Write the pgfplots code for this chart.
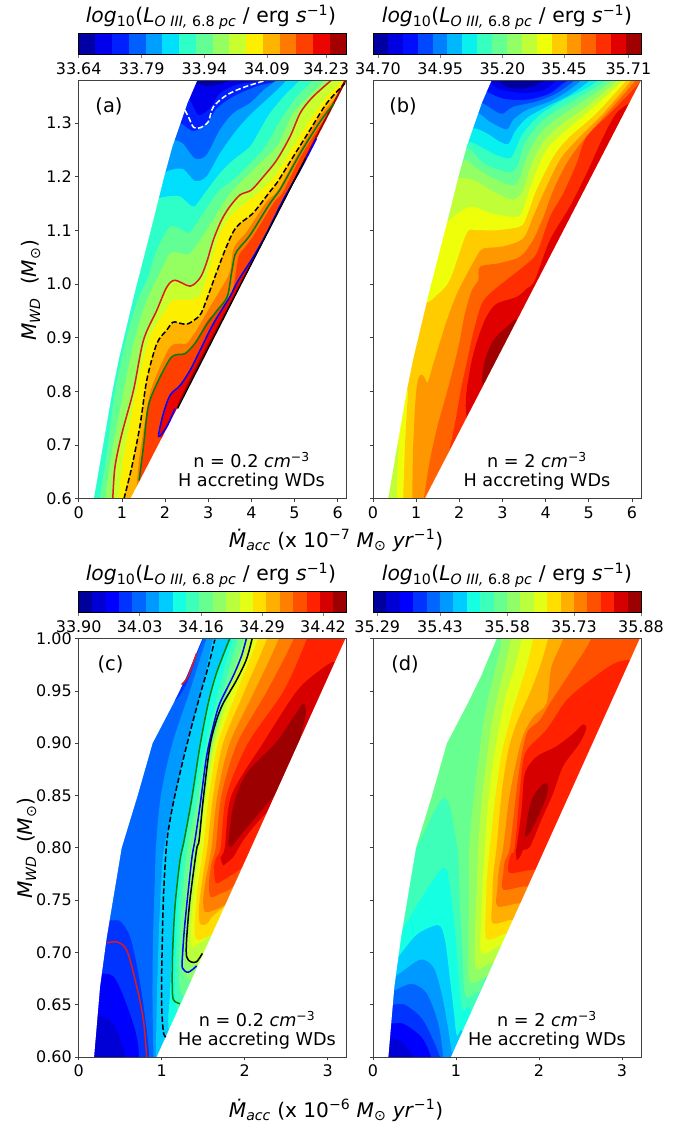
\documentclass[border=0pt]{standalone}
\usepackage{fontspec}
\setmainfont{DejaVu Sans}
\usepackage{pgfplots}
\pgfplotsset{compat=1.18}

% discrete jet, one colour per contour level: j16c0 ... j16c15 etc
\newcount\jc
\newcommand{\mkjet}[1]{\jc=0
  \loop\ifnum\jc<#1
    \pgfmathsetmacro\jt{(\the\jc+.5)/#1}
    \pgfmathsetmacro\jr{max(0,min(1,(\jt-.35)/.31,1-.5*(\jt-.89)/.11))}
    \pgfmathsetmacro\jg{max(0,min(1,(\jt-.125)/.25,1-(\jt-.64)/.27))}
    \pgfmathsetmacro\jb{max(0,min(1,.5+.5*\jt/.11,1-(\jt-.34)/.31))}
    \definecolor{j#1c\the\jc}{rgb}{\jr,\jg,\jb}
    \advance\jc by 1
  \repeat}
\mkjet{16}\mkjet{18}\mkjet{20}
\definecolor{cred}{rgb}{.88,.1,.1}

\newcommand{\fs}[1]{\fontsize{#1}{#1}\selectfont}
\pgfplotsset{
  panel/.style={scale only axis, anchor=south west, width=268bp, height=418.4bp,
    axis on top, tick pos=left, tick align=outside, major tick length=3.5bp,
    axis line style={line width=.7bp,black!75}, tick style={line width=.7bp,black!75},
    tick label style={font=\fs{16}}, xticklabel style={yshift=-1bp},
    clip=true},
  hwd/.style={panel, xmin=0, xmax=6.21, ymin=.6, ymax=1.3795,
    xtick={0,...,6}, xticklabels={0,1,2,3,4,5,6},
    ytick={.6,.7,.8,.9,1,1.1,1.2,1.3}},
  hewd/.style={panel, xmin=0, xmax=3.229, ymin=.6, ymax=1,
    xtick={0,1,2,3}, xticklabels={0,1,2,3},
    ytick={.6,.65,.7,.75,.8,.85,.9,.95,1}},
  cline/.style={line width=1.5bp,smooth},
}
% filled level regions, painted from low to high
\newcommand{\base}[1]{\addplot[draw=none,fill=#1] coordinates {(-1,.4)(9,.4)(9,1.6)(-1,1.6)};}
\newcommand{\layR}[2]{\addplot[draw=none,fill=#1,smooth] coordinates {#2 (9,1.6)(9,.4)};}
\newcommand{\layL}[2]{\addplot[draw=none,fill=#1,smooth] coordinates {#2 (9,1.6)(9,.4)(-1,.4)(-1,1.6)};}
\newcommand{\layB}[2]{\addplot[draw=none,fill=#1,smooth] coordinates {#2 (9,.4)(9,1.6)(-1,1.6)};}
\newcommand{\blob}[2]{\addplot[draw=none,fill=#1,smooth] coordinates {#2};}
% white outside the model grid
\newcommand{\maskH}{%
  \addplot[draw=none,fill=white] coordinates {(.24,.55)(.35,.6)(.78,.8)(.93,.86)(1.3,.985)(1.71,1.113)(1.98,1.2)(2.17,1.256)(2.52,1.337)(2.75,1.38)(2.8,1.41)(-1,1.41)(-1,.4)};
  \addplot[draw=none,fill=white] coordinates {(.88,.55)(1.2,.6)(6.2,1.3775)(6.4,1.41)(9,1.41)(9,.4)};}
\newcommand{\maskHe}{%
  \addplot[draw=none,fill=white] coordinates {(.15,.55)(.185,.6)(.257,.667)(.337,.714)(.518,.8)(.71,.85)(.89,.9)(1.14,.938)(1.3,.964)(1.49,1)(1.52,1.02)(-1,1.02)(-1,.4)};
  \addplot[draw=none,fill=white] coordinates {(.656,.55)(.94,.6)(3.215,1)(3.33,1.02)(5,1.02)(5,.4)};}
% colour bar, one rectangle per level
\newcommand{\cbar}[6]{%
  \begin{axis}[scale only axis, anchor=south west, at={(#2bp,#3bp)}, width=268bp, height=21bp,
      xmin=0, xmax=#1, ymin=0, ymax=1, ytick=\empty, axis on top,
      xtick={#4}, xticklabels={#5}, xtick pos=bottom, tick align=outside, major tick length=3.5bp,
      axis line style={line width=.7bp}, tick style={line width=.7bp},
      tick label style={font=\fs{16}}, xticklabel style={yshift=-1bp}]
    \pgfplotsinvokeforeach{0,...,#6}{%
      \pgfmathtruncatemacro\nx{##1+1}
      \edef\tmp{\noexpand\addplot[draw=none,fill=j#1c##1] coordinates {(##1,0)(\nx,0)(\nx,1)(##1,1)};}\tmp}
  \end{axis}}
\newcommand{\ctitle}{\textit{log}\textsubscript{10}(\textit{L}\textsubscript{\textit{O III,} 6.8 \textit{pc}} / erg \textit{s}\textsuperscript{−1})}
\newcommand{\mlabel}[1]{\textit{\.{M}}\textsubscript{\textit{acc}} (x 10\textsuperscript{−#1} \textit{M}\textsubscript{⊙} \textit{yr}\textsuperscript{−1})}
\newcommand{\wlabel}{\textit{M}\textsubscript{\textit{WD}}\ \ (\textit{M}\textsubscript{⊙})}
\newcommand{\dens}[1]{n = #1 \textit{cm}\textsuperscript{−3}}

\begin{document}
\begin{tikzpicture}
\path[use as bounding box] (0,0) rectangle (686bp,1122bp);

%%% (a)
\begin{axis}[hwd, at={(78.7bp,623.3bp)}, yticklabels={0.6,0.7,0.8,0.9,1.0,1.1,1.2,1.3}]
\base{j16c1}
\layL{j16c2}{(2.3,1.33)(2.54,1.346)(2.77,1.315)(3.04,1.327)(3.27,1.355)(3.66,1.371)(4.2,1.38)(4.4,1.4)(4.5,1.44)(4.55,1.6)}
\layL{j16c3}{(2.1,1.29)(2.35,1.299)(2.58,1.287)(2.73,1.286)(3,1.302)(3.2,1.327)(3.58,1.349)(4.12,1.368)(4.66,1.38)(4.85,1.4)(4.95,1.44)(5,1.6)}
\layL{j16c4}{(1.9,1.26)(2.19,1.268)(2.42,1.261)(2.69,1.234)(2.96,1.24)(3.27,1.287)(3.58,1.318)(3.97,1.337)(4.28,1.361)(4.59,1.38)(4.8,1.4)(4.9,1.44)(4.95,1.6)}
\layL{j16c5}{(1.8,1.2)(2.115,1.212)(2.42,1.214)(2.69,1.192)(2.96,1.2)(3.27,1.243)(3.66,1.287)(4.01,1.318)(4.35,1.343)(4.59,1.361)(4.82,1.38)(5,1.4)(5.1,1.44)(5.15,1.6)}
\layL{j16c6}{(1.5,1.14)(1.77,1.157)(2.04,1.163)(2.35,1.163)(2.66,1.144)(2.89,1.166)(3.27,1.206)(3.58,1.231)(3.97,1.256)(4.2,1.287)(4.43,1.318)(4.78,1.352)(5.13,1.38)(5.3,1.4)(5.4,1.44)(5.45,1.6)}
\layR{j16c7}{(.4,.5)(.49,.6)(.65,.684)(.84,.799)(1.11,.901)(1.38,.973)(1.58,1.007)(1.81,1.063)(2.12,1.107)(2.42,1.1)(2.58,1.097)(2.96,1.141)(3.27,1.175)(3.58,1.194)(4.05,1.231)(4.32,1.256)(4.59,1.293)(4.78,1.318)(5.09,1.352)(5.44,1.38)(5.6,1.4)(5.7,1.44)(5.75,1.6)}
\layR{j16c8}{(.52,.5)(.61,.6)(.76,.684)(1.03,.796)(1.27,.889)(1.58,.97)(1.88,1.02)(2.12,1.057)(2.39,1.057)(2.58,1.057)(2.96,1.1)(3.35,1.15)(3.58,1.175)(3.81,1.194)(4.2,1.225)(4.59,1.256)(4.82,1.293)(4.97,1.318)(5.36,1.352)(5.71,1.38)(5.9,1.4)(6,1.44)(6.05,1.6)}
\layR{j16c9}{(.72,.5)(.79,.6)(.84,.659)(1,.721)(1.27,.802)(1.5,.895)(1.81,.951)(2.04,.994)(2.23,1.007)(2.58,.996)(2.81,1.011)(2.96,1.039)(3.12,1.082)(3.31,1.119)(3.5,1.144)(3.74,1.166)(4,1.175)(4.28,1.2)(4.59,1.231)(4.9,1.275)(5.13,1.318)(5.36,1.343)(5.59,1.361)(5.86,1.38)(6,1.4)(6.1,1.44)(6.15,1.6)}
\layR{j16c10}{(.85,.5)(.92,.6)(1.03,.672)(1.23,.758)(1.42,.832)(1.65,.901)(1.96,.945)(2.19,.97)(2.5,.97)(2.81,.979)(3.04,1.032)(3.27,1.094)(3.5,1.125)(3.85,1.15)(4.24,1.175)(4.59,1.206)(4.97,1.256)(5.36,1.306)(5.75,1.349)(6.09,1.38)(6.3,1.42)(6.4,1.46)(6.45,1.6)}
\layR{j16c11}{(1,.5)(1.05,.6)(1.23,.659)(1.42,.736)(1.58,.822)(1.81,.889)(2.04,.914)(2.19,.929)(2.39,.926)(2.54,.926)(2.81,.942)(2.96,.97)(3.16,1.014)(3.39,1.063)(3.58,1.097)(3.74,1.113)(4.04,1.132)(4.43,1.172)(4.59,1.188)(4.97,1.237)(5.36,1.287)(5.75,1.337)(6.17,1.374)(6.3,1.42)(6.4,1.46)(6.45,1.6)}
\layR{j16c12}{(1.28,.55)(1.38,.659)(1.5,.727)(1.65,.796)(1.85,.839)(2.12,.883)(2.35,.889)(2.5,.889)(2.73,.914)(3.04,.957)(3.25,.985)(3.49,1.02)(3.57,1.06)(3.66,1.076)(3.89,1.097)(4.35,1.153)(4.62,1.175)(5.13,1.25)(5.59,1.312)(5.98,1.349)(6.2,1.377)(6.4,1.42)(6.5,1.46)(6.55,1.6)}
\layR{j16c13}{(1.34,.55)(1.4,.634)(1.5,.697)(1.61,.771)(1.81,.814)(2.12,.861)(2.31,.869)(2.46,.87)(2.69,.889)(2.97,.93)(3.2,.95)(3.5,.976)(3.6,1)(3.7,1.05)(3.82,1.065)(4.05,1.09)(4.51,1.15)(4.74,1.172)(5.13,1.235)(5.59,1.295)(5.92,1.33)(6.1,1.345)(6.4,1.4)(6.5,1.44)(6.55,1.6)}
\layR{j16c14}{(2.05,.7)(1.87,.72)(1.98,.758)(2.14,.793)(2.37,.811)(2.6,.839)(2.83,.876)(3.14,.926)(3.5,.976)(3.72,1.007)(4.07,1.051)(4.37,1.094)(4.76,1.157)(5.15,1.212)(5.53,1.271)(5.9,1.33)(6.4,1.39)(6.5,1.43)(6.55,1.6)}
\layR{j16c15}{(2.2,.7)(2.32,.78)(3.8,1.01)(5.3,1.245)(6.4,1.42)(6.5,1.46)(6.55,1.6)}
\blob{j16c0}{(2.6,1.39)(2.7,1.375)(2.96,1.369)(3.27,1.372)(3.47,1.38)(3.6,1.39)}
\maskH
\addplot[cline,cred] coordinates {(.79,.6)(.84,.659)(1,.721)(1.27,.802)(1.5,.895)(1.81,.951)(2.04,.994)(2.23,1.007)(2.58,.996)(2.81,1.011)(2.96,1.039)(3.12,1.082)(3.31,1.119)(3.5,1.144)(3.74,1.166)(4,1.175)(4.28,1.2)(4.59,1.231)(4.9,1.275)(5.13,1.318)(5.36,1.343)(5.59,1.361)(5.86,1.38)};
\addplot[cline,black,dash pattern=on 5.5bp off 2.5bp] coordinates {(1.05,.6)(1.23,.659)(1.42,.736)(1.58,.822)(1.81,.889)(2.04,.914)(2.19,.929)(2.39,.926)(2.54,.926)(2.81,.942)(2.96,.97)(3.16,1.014)(3.39,1.063)(3.58,1.097)(3.74,1.113)(4.04,1.132)(4.43,1.172)(4.59,1.188)(4.97,1.237)(5.36,1.287)(5.75,1.337)(6.17,1.374)};
\addplot[cline,green!50!black] coordinates {(1.4,.634)(1.5,.697)(1.61,.771)(1.81,.814)(2.12,.861)(2.31,.869)(2.46,.87)(2.69,.889)(2.97,.925)(3.2,.95)(3.44,.976)(3.54,1.02)(3.62,1.054)(3.74,1.069)(3.97,1.091)(4.43,1.15)(4.66,1.175)(5.13,1.243)(5.59,1.302)(5.92,1.337)};
\addplot[cline,blue] coordinates {(2.23,.768)(2.04,.734)(1.85,.716)(1.96,.758)(2.12,.793)(2.35,.811)(2.58,.839)(2.81,.876)(3.12,.926)(3.5,.976)(3.7,1.007)(4.05,1.051)(4.35,1.094)(4.74,1.157)(5.13,1.212)(5.51,1.271)};
\addplot[line width=1.3bp,black] coordinates {(2.29,.768)(3.78,1.003)(5.26,1.234)};
\addplot[cline,white,dash pattern=on 5.5bp off 2.5bp] coordinates {(2.46,1.324)(2.54,1.312)(2.66,1.292)(2.81,1.291)(3,1.302)(3.12,1.33)(3.43,1.352)(3.81,1.366)(4.28,1.378)};
\end{axis}

%%% (b)
\begin{axis}[hwd, at={(373bp,623.3bp)}, yticklabels={}]
\base{j18c0}
\layL{j18c1}{(2.85,1.4)(2.90,1.38)(3.14,1.366)(3.48,1.364)(3.79,1.371)(3.98,1.38)(4.05,1.4)(4.15,1.44)(4.2,1.6)}
\layL{j18c2}{(2.6,1.4)(2.75,1.374)(2.94,1.362)(3.48,1.356)(3.95,1.361)(4.25,1.38)(4.35,1.4)(4.45,1.44)(4.5,1.6)}
\layL{j18c3}{(2.4,1.38)(2.59,1.361)(2.79,1.352)(3.1,1.344)(3.64,1.344)(4.1,1.355)(4.41,1.374)(4.53,1.38)(4.65,1.4)(4.75,1.44)(4.8,1.6)}
\layL{j18c4}{(2.3,1.33)(2.52,1.337)(2.79,1.324)(3,1.317)(3.25,1.33)(3.79,1.34)(4.25,1.355)(4.68,1.38)(4.8,1.4)(4.9,1.44)(4.95,1.6)}
\layL{j18c5}{(2.2,1.31)(2.44,1.318)(2.71,1.302)(3.1,1.288)(3.25,1.306)(3.56,1.324)(4.1,1.34)(4.49,1.358)(4.83,1.38)(4.95,1.4)(5.05,1.44)(5.1,1.6)}
\layL{j18c6}{(2.1,1.28)(2.34,1.29)(2.63,1.281)(2.94,1.265)(3.14,1.261)(3.29,1.284)(3.56,1.309)(4.02,1.33)(4.56,1.352)(5.03,1.38)(5.15,1.4)(5.25,1.44)(5.3,1.6)}
\layL{j18c7}{(2,1.25)(2.21,1.265)(2.48,1.256)(2.86,1.24)(3.17,1.234)(3.3,1.25)(3.48,1.281)(3.87,1.315)(4.41,1.343)(4.87,1.361)(5.22,1.38)(5.35,1.4)(5.45,1.44)(5.5,1.6)}
\layL{j18c8}{(1.95,1.22)(2.19,1.253)(2.56,1.225)(2.94,1.212)(3.23,1.209)(3.37,1.225)(3.52,1.262)(3.87,1.3)(4.33,1.327)(4.87,1.352)(5.41,1.38)(5.55,1.4)(5.65,1.44)(5.7,1.6)}
\layL{j18c9}{(1.9,1.2)(2.13,1.231)(2.4,1.216)(2.79,1.197)(3.25,1.183)(3.41,1.2)(3.6,1.243)(3.91,1.284)(4.33,1.312)(4.87,1.34)(5.57,1.38)(5.7,1.4)(5.8,1.44)(5.85,1.6)}
\layL{j18c10}{(1.75,1.19)(1.98,1.197)(2.32,1.194)(2.79,1.172)(3.25,1.157)(3.48,1.175)(3.68,1.225)(3.98,1.268)(4.41,1.3)(4.95,1.33)(5.68,1.38)(5.85,1.4)(5.95,1.44)(6,1.6)}
\layR{j18c11}{(.53,.57)(.55,.6)(.57,.659)(.59,.709)(.47,.758)(1.01,.945)(1.55,1.119)(1.67,1.113)(2.02,1.135)(2.32,1.144)(2.71,1.132)(3.25,1.125)(3.44,1.132)(3.68,1.188)(4.02,1.25)(4.49,1.287)(5.03,1.324)(5.8,1.38)(5.95,1.4)(6.05,1.44)(6.1,1.6)}
\layR{j18c12}{(.69,.57)(.7,.6)(.74,.696)(.78,.758)(.8,.802)(.63,.82)(1.09,.951)(1.2,.966)(1.28,.966)(1.44,.976)(1.78,1.007)(2.17,1.094)(2.4,1.1)(2.86,1.1)(3.41,1.107)(3.56,1.125)(3.79,1.175)(4.18,1.237)(4.56,1.274)(5.18,1.318)(5.88,1.38)(6.03,1.4)(6.13,1.44)(6.18,1.6)}
\layR{j18c13}{(.91,.57)(.91,.6)(.93,.696)(.99,.789)(1.05,.824)(1.13,.831)(1.2,.825)(1.27,.817)(1.4,.852)(1.71,.932)(1.98,.988)(2.4,1.051)(2.56,1.066)(3.02,1.07)(3.48,1.085)(3.71,1.125)(3.95,1.169)(4.33,1.231)(4.72,1.268)(5.34,1.318)(5.99,1.38)(6.1,1.4)(6.2,1.44)(6.25,1.6)}
\layR{j18c14}{(1.15,.55)(1.18,.6)(1.32,.672)(1.51,.74)(1.75,.809)(1.98,.883)(2.13,.945)(2.29,.988)(2.44,1.007)(2.48,1.032)(2.94,1.039)(3.41,1.051)(3.71,1.082)(3.95,1.125)(4.18,1.175)(4.49,1.225)(4.87,1.268)(5.49,1.324)(6.09,1.38)(6.2,1.4)(6.3,1.44)(6.35,1.6)}
\layR{j18c15}{(1.72,.66)(1.77,.69)(1.9,.74)(2.05,.809)(2.17,.852)(2.32,.908)(2.52,.963)(2.79,.988)(3.48,1.032)(3.79,1.057)(4.1,1.125)(4.41,1.169)(4.72,1.225)(4.95,1.274)(5.57,1.324)(6.19,1.377)(6.3,1.4)(6.4,1.44)(6.45,1.6)}
\layR{j18c16}{(2.2,.74)(2.15,.765)(2.17,.802)(2.29,.858)(2.44,.901)(2.63,.939)(2.86,.963)(3.33,.976)(3.56,.991)(3.75,1.007)(4.1,1.082)(4.56,1.144)(4.95,1.206)(5.34,1.275)(5.64,1.318)(5.95,1.337)(6.3,1.35)(6.4,1.44)(6.45,1.6)}
\blob{j18c17}{(2.52,.82)(2.59,.857)(2.79,.895)(3.17,.925)(3.35,.93)(3.5,.85)(2.7,.8)(2.52,.82)}
\maskH
\end{axis}

%%% (c)
\begin{axis}[hewd, at={(78.7bp,65bp)}, yticklabels={0.60,0.65,0.70,0.75,0.80,0.85,0.90,0.95,1.00}]
\base{j20c1}
\layB{j20c2}{(.1,.64)(.185,.639)(.257,.64)(.42,.632)(.52,.613)(.56,.6)(.58,.55)(.59,.4)}
\layB{j20c3}{(.1,.68)(.26,.68)(.42,.677)(.54,.658)(.68,.626)(.73,.6)(.75,.55)(.76,.4)}
\layR{j20c4}{(.85,.55)(.85,.6)(.8,.638)(.72,.68)(.62,.715)(.5,.73)(.38,.731)(.3,.74)(.55,.85)(.9,.93)(1.12,.9375)(1.24,.948)(1.34,.964)(1.43,.986)(1.5,1)(1.7,1.05)(1.76,1.12)(1.8,1.5)}
\layR{j20c5}{(.9,.55)(.9,.6)(.89,.648)(.89,.68)(.9,.728)(.92,.775)(.93,.8)(.99,.85)(1.13,.9)(1.34,.95)(1.54,1)(1.74,1.05)(1.8,1.12)(1.84,1.5)}
\layR{j20c6}{(.93,.55)(.93,.6)(.94,.648)(.95,.68)(.97,.728)(1,.775)(1.03,.8)(1.16,.85)(1.3,.9)(1.48,.95)(1.62,1)(1.82,1.05)(1.88,1.12)(1.92,1.5)}
\layR{j20c7}{(1.15,.59)(1.08,.63)(1.1,.66)(1.12,.696)(1.15,.744)(1.21,.788)(1.26,.807)(1.35,.846)(1.45,.897)(1.55,.938)(1.65,.967)(1.81,1)(2.01,1.05)(2.07,1.12)(2.11,1.5)}
\layR{j20c8}{(1.3,.62)(1.17,.65)(1.16,.667)(1.17,.696)(1.2,.744)(1.27,.8)(1.39,.85)(1.53,.9)(1.68,.95)(1.86,1)(2.06,1.05)(2.12,1.12)(2.16,1.5)}
\layR{j20c9}{(1.35,.65)(1.22,.664)(1.21,.696)(1.24,.744)(1.31,.8)(1.44,.85)(1.57,.9)(1.74,.95)(1.92,1)(2.12,1.05)(2.18,1.12)(2.22,1.5)}
\layR{j20c10}{(1.42,.67)(1.27,.68)(1.25,.7)(1.28,.744)(1.36,.8)(1.48,.85)(1.61,.9)(1.79,.95)(1.99,1)(2.19,1.05)(2.25,1.12)(2.29,1.5)}
\layR{j20c11}{(1.5,.69)(1.33,.69)(1.3,.712)(1.34,.76)(1.42,.8)(1.52,.85)(1.62,.9)(1.8,.95)(2.04,1)(2.24,1.05)(2.3,1.12)(2.34,1.5)}
\layR{j20c12}{(1.65,.72)(1.48,.71)(1.36,.705)(1.35,.718)(1.38,.753)(1.45,.8)(1.53,.85)(1.64,.9)(1.84,.95)(2.1,1)(2.3,1.05)(2.36,1.12)(2.4,1.5)}
\layR{j20c13}{(1.8,.73)(1.62,.718)(1.46,.712)(1.4,.715)(1.4,.731)(1.43,.76)(1.5,.8)(1.57,.85)(1.68,.9)(1.91,.95)(2.16,1)(2.36,1.05)(2.42,1.12)(2.46,1.5)}
\layR{j20c14}{(1.85,.75)(1.62,.735)(1.54,.727)(1.46,.728)(1.45,.744)(1.5,.775)(1.55,.8)(1.62,.85)(1.74,.9)(2,.95)(2.27,1)(2.47,1.05)(2.53,1.12)(2.57,1.5)}
\layR{j20c15}{(1.95,.77)(1.78,.747)(1.62,.74)(1.52,.739)(1.5,.75)(1.53,.769)(1.6,.8)(1.67,.85)(1.82,.9)(2.12,.95)(2.41,1)(2.61,1.05)(2.67,1.12)(2.71,1.5)}
\layR{j20c16}{(2.05,.79)(1.86,.763)(1.7,.756)(1.59,.753)(1.57,.766)(1.6,.785)(1.65,.8)(1.72,.85)(1.91,.9)(2.27,.95)(2.59,1)(2.79,1.05)(2.85,1.12)(2.89,1.5)}
\layR{j20c17}{(2.15,.8)(1.98,.782)(1.74,.769)(1.65,.767)(1.63,.782)(1.66,.791)(1.71,.8)(1.78,.85)(2.04,.9)(2.47,.95)(2.75,1)(2.95,1.05)(3.01,1.12)(3.05,1.5)}
\blob{j20c18}{(1.74,.783)(1.71,.791)(1.76,.8)(1.84,.85)(2.22,.9)(2.63,.95)(2.91,.97)(3.07,.978)(3.07,.972)(2.95,.932)(2.75,.887)(2.47,.852)(2.14,.823)(1.98,.807)(1.86,.791)(1.74,.783)}
\blob{j20c19}{(1.8,.803)(1.86,.839)(2.02,.871)(2.37,.9)(2.59,.925)(2.71,.938)(2.73,.925)(2.59,.884)(2.43,.858)(2.14,.83)(1.94,.811)(1.84,.801)(1.8,.803)}
\maskHe
\addplot[cline,cred] coordinates {(.34,.709)(.46,.71)(.58,.702)(.7,.667)(.78,.635)(.82,.6)};
\addplot[cline,cred] coordinates {(1.24,.956)(1.32,.964)(1.42,.986)};
\addplot[cline,black,dash pattern=on 5.5bp off 2.5bp] coordinates {(1.05,.619)(1.02,.624)(1,.648)(1,.68)(1.02,.75)(1.06,.804)(1.13,.839)(1.24,.878)(1.36,.916)(1.48,.951)(1.56,.973)(1.64,.999)};
\addplot[cline,green!50!black] coordinates {(1.22,.651)(1.16,.653)(1.13,.66)(1.13,.696)(1.16,.744)(1.22,.788)(1.27,.807)(1.36,.846)(1.46,.897)(1.56,.938)(1.66,.967)(1.82,1)};
\addplot[cline,blue] coordinates {(1.42,.687)(1.32,.681)(1.25,.685)(1.25,.696)(1.28,.728)(1.36,.788)(1.4,.807)(1.46,.839)(1.54,.887)(1.62,.916)(1.7,.938)(1.86,.964)(1.96,.983)(2.02,1)};
\addplot[cline,black] coordinates {(1.49,.699)(1.42,.691)(1.35,.691)(1.3,.696)(1.3,.712)(1.34,.75)(1.42,.798)(1.45,.807)(1.5,.846)(1.58,.897)(1.66,.922)(1.74,.938)(1.9,.96)(2.02,.98)(2.09,1)};
\end{axis}

%%% (d)
\begin{axis}[hewd, at={(373bp,65bp)}, yticklabels={}]
\base{j20c1}
\layB{j20c2}{(.1,.618)(.205,.618)(.325,.616)(.446,.605)(.486,.6)(.5,.58)(.51,.4)}
\layB{j20c3}{(.1,.632)(.225,.632)(.365,.632)(.586,.619)(.7,.6)(.71,.58)(.72,.4)}
\layB{j20c4}{(.1,.65)(.237,.65)(.386,.65)(.606,.635)(.807,.6)(.82,.58)(.83,.4)}
\layB{j20c5}{(.1,.66)(.265,.664)(.466,.67)(.647,.661)(.787,.632)(.847,.6)(.86,.58)(.87,.4)}
\layB{j20c6}{(.1,.67)(.285,.678)(.566,.693)(.727,.686)(.827,.661)(.908,.626)(.948,.604)(.97,.59)(.98,.4)}
\layB{j20c7}{(.1,.68)(.305,.696)(.526,.717)(.787,.726)(.867,.712)(.928,.674)(.976,.642)(1.008,.621)(1.1,.61)(1.12,.4)}
\layB{j20c8}{(.15,.7)(.345,.721)(.566,.75)(.827,.78)(.908,.772)(.988,.721)(1.04,.67)(1.08,.645)(1.2,.63)(1.22,.4)}
\layB{j20c9}{(.35,.78)(.526,.801)(.647,.82)(.775,.841)(.867,.848)(.928,.839)(.988,.814)(1.016,.801)(1.028,.791)(1.048,.744)(1.08,.696)(1.116,.658)(1.27,.662)(1.4,.66)(1.42,.4)}
\layR{j20c10}{(1.5,.67)(1.38,.677)(1.169,.672)(1.149,.712)(1.157,.76)(1.16,.801)(1.21,.846)(1.27,.884)(1.33,.919)(1.41,.951)(1.51,.983)(1.55,1)(1.6,1.05)(1.66,1.12)(1.7,1.5)}
\layR{j20c11}{(1.55,.68)(1.458,.691)(1.241,.685)(1.229,.718)(1.249,.76)(1.27,.801)(1.31,.846)(1.37,.884)(1.43,.919)(1.51,.948)(1.59,.973)(1.66,1)(1.74,1.05)(1.8,1.12)(1.84,1.5)}
\layR{j20c12}{(1.65,.7)(1.549,.707)(1.309,.699)(1.301,.728)(1.317,.76)(1.349,.801)(1.39,.846)(1.45,.884)(1.53,.919)(1.61,.948)(1.71,.973)(1.79,1)(1.9,1.05)(1.96,1.12)(2,1.5)}
\layR{j20c13}{(1.75,.71)(1.611,.718)(1.369,.713)(1.361,.744)(1.377,.775)(1.41,.801)(1.47,.846)(1.55,.89)(1.65,.922)(1.75,.948)(1.85,.973)(1.93,1)(2.05,1.05)(2.11,1.12)(2.15,1.5)}
\layR{j20c14}{(1.85,.72)(1.685,.731)(1.442,.728)(1.438,.75)(1.45,.775)(1.49,.801)(1.55,.852)(1.63,.893)(1.73,.919)(1.89,.948)(2.01,.973)(2.11,1)(2.25,1.05)(2.31,1.12)(2.35,1.5)}
\layR{j20c15}{(1.95,.74)(1.776,.747)(1.502,.744)(1.498,.761)(1.518,.78)(1.57,.801)(1.65,.852)(1.79,.903)(1.93,.925)(2.09,.938)(2.15,.973)(2.29,1)(2.45,1.05)(2.51,1.12)(2.55,1.5)}
\layR{j20c16}{(2.05,.75)(1.868,.763)(1.57,.76)(1.57,.775)(1.59,.788)(1.65,.801)(1.75,.868)(1.85,.909)(2.01,.922)(2.13,.938)(2.37,.967)(2.63,1)(2.85,1.05)(2.91,1.12)(2.95,1.5)}
\layR{j20c17}{(2.15,.77)(1.959,.779)(1.65,.776)(1.64,.788)(1.67,.795)(1.71,.801)(1.79,.871)(1.85,.893)(2.09,.913)(2.33,.941)(2.61,.96)(2.9,.976)(3.08,.98)(3.3,.985)(3.33,1.5)}
\blob{j20c18}{(1.73,.788)(1.72,.798)(1.73,.8)(1.79,.836)(1.83,.871)(1.97,.887)(2.21,.897)(2.41,.909)(2.53,.918)(2.57,.914)(2.49,.9)(2.29,.878)(2.17,.852)(2.03,.827)(1.89,.801)(1.81,.798)(1.77,.791)(1.73,.788)}
\blob{j20c19}{(1.83,.812)(1.87,.833)(1.93,.849)(2.05,.861)(2.11,.86)(2.09,.849)(1.99,.83)(1.89,.814)(1.84,.811)(1.83,.812)}
\maskHe
\end{axis}

%%% colour bars
\cbar{16}{78.7}{1067.7}{0,3.76,7.5,11.24,14.77}{33.64,33.79,33.94,34.09,34.23}{15}
\cbar{18}{373}{1067.7}{.34,4.52,8.69,12.83,17.15}{34.70,34.95,35.20,35.45,35.71}{17}
\cbar{20}{78.7}{509.3}{0,4.55,9.13,13.68,18.23}{33.90,34.03,34.16,34.29,34.42}{19}
\cbar{20}{373}{509.3}{.32,5,10.02,15,20}{35.29,35.43,35.58,35.73,35.88}{19}

%%% titles and labels
\node[font=\fs{20.4}] at (211bp,1105bp) {\ctitle};
\node[font=\fs{20.4}] at (507bp,1105bp) {\ctitle};
\node[font=\fs{20.4}] at (211bp,547bp) {\ctitle};
\node[font=\fs{20.4}] at (507bp,547bp) {\ctitle};
\node[font=\fs{20.2}] at (336bp,582bp) {\mlabel{7}};
\node[font=\fs{20.2}] at (336bp,12bp) {\mlabel{6}};
\node[font=\fs{20.2},rotate=90] at (31bp,832bp) {\wlabel};
\node[font=\fs{20.2},rotate=90] at (27bp,274bp) {\wlabel};
\node[font=\fs{19.5}] at (109bp,1016bp) {(a)};
\node[font=\fs{19.5}] at (403bp,1016bp) {(b)};
\node[font=\fs{19.5}] at (110.5bp,458bp) {(c)};
\node[font=\fs{19.5}] at (405bp,458bp) {(d)};
\node[font=\fs{17.7}] at (251.5bp,662bp) {\dens{0.2}};
\node[font=\fs{17.7}] at (251.5bp,640bp) {H accreting WDs};
\node[font=\fs{17.7}] at (537bp,662bp) {\dens{2}};
\node[font=\fs{17.7}] at (537bp,640bp) {H accreting WDs};
\node[font=\fs{17.7}] at (257bp,103bp) {\dens{0.2}};
\node[font=\fs{17.7}] at (257bp,81bp) {He accreting WDs};
\node[font=\fs{17.7}] at (547bp,103bp) {\dens{2}};
\node[font=\fs{17.7}] at (547bp,81bp) {He accreting WDs};
\end{tikzpicture}
\end{document}
